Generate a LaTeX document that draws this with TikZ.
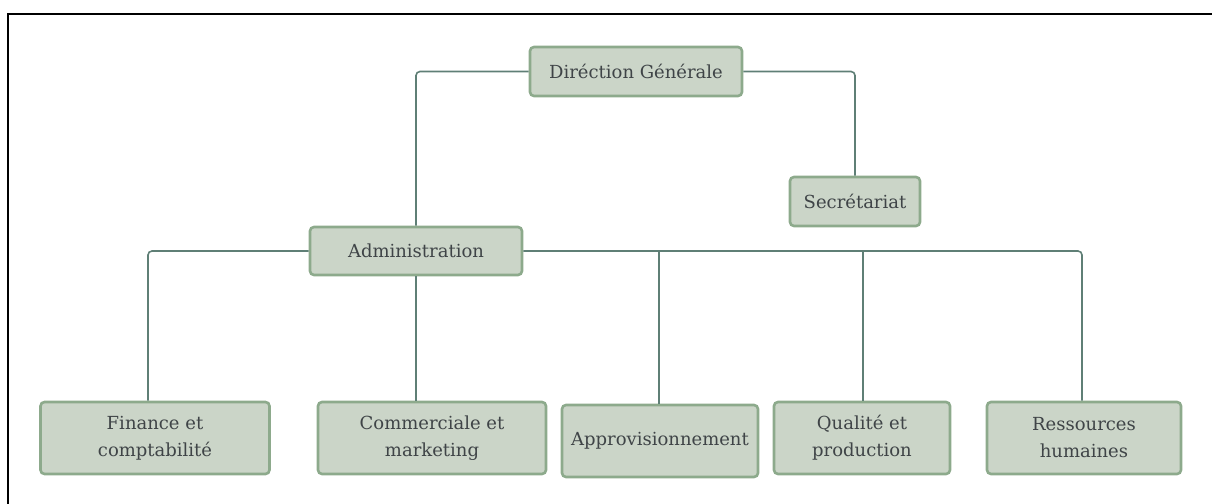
\documentclass[tikz,border=0pt]{standalone}
\usepackage{fontspec}
\setmainfont{DejaVu Serif}
\begin{document}
\definecolor{boxfill}{HTML}{CBD5C8}
\definecolor{boxedge}{HTML}{8DAA8C}
\definecolor{wire}{HTML}{5F7F76}
\definecolor{ink}{HTML}{3F4447}
\begin{tikzpicture}[x=1pt,y=-1pt,
  unit/.style={draw=boxedge,line width=2.6pt,fill=boxfill,rounded corners=4pt,
    text=ink,font=\fontsize{18}{27}\selectfont,align=center,inner sep=2pt},
  link/.style={draw=wire,line width=1.6pt,rounded corners=4pt}]
  \useasboundingbox (0,0) rectangle (1212,503);
  % outer frame (top and left edges)
  \draw[line width=2.2pt] (8,504) -- (8,14) -- (1213,14);

  \node[unit,minimum width=212pt,minimum height=49pt] (dg) at (636,71.5) {Diréction Générale};
  \node[unit,minimum width=130pt,minimum height=49pt] (sec) at (855,201.5) {Secrétariat};
  \node[unit,minimum width=212pt,minimum height=48pt] (adm) at (416,251) {Administration};

  \node[unit,minimum width=229pt,minimum height=72pt] (fin) at (155,438) {Finance et\\comptabilité};
  \node[unit,minimum width=228pt,minimum height=72pt] (com) at (432,438) {Commerciale et\\marketing};
  \node[unit,minimum width=196pt,minimum height=72pt] (app) at (660,441) {Approvisionnement};
  \node[unit,minimum width=176pt,minimum height=72pt] (qua) at (862,438) {Qualité et\\production};
  \node[unit,minimum width=194pt,minimum height=72pt] (rh) at (1084,438) {Ressources\\humaines};

  % drop points of the branches
  \coordinate (finTop) at (148,0);
  \coordinate (appTop) at (659,0);
  \coordinate (quaTop) at (863,0);
  \coordinate (rhTop) at (1082,0);

  % connectors
  \path[link] (dg.west) -| (adm.north);
  \path[link] (dg.east) -| (sec.north);
  \path[link] (adm.west) -| (finTop |- fin.north);
  \path[link] (adm.south) -- (adm.south |- com.north);
  \path[link] (adm.east) -| (rhTop |- rh.north);
  \path[link] (appTop |- adm.east) -- (appTop |- app.north);
  \path[link] (quaTop |- adm.east) -- (quaTop |- qua.north);
\end{tikzpicture}
\end{document}
